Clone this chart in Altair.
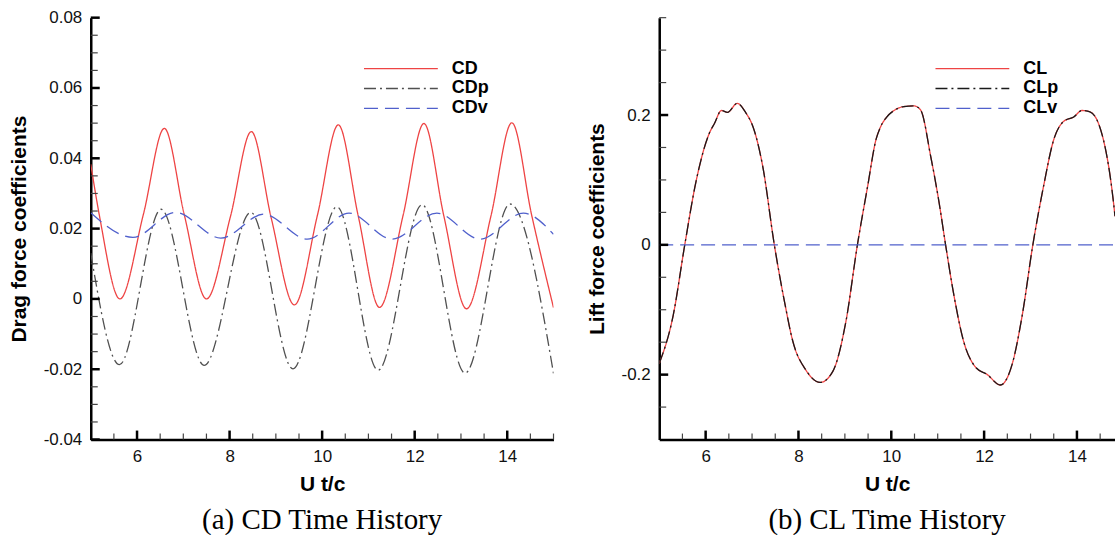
import altair as alt
import pandas as pd

# ---------------- data ----------------
# (a) drag coefficients
cd_t = [5.00, 5.19, 5.63, 6.14, 6.59, 7.02, 7.50, 8.02, 8.47, 8.90, 9.40, 9.90, 10.35,
        10.78, 11.24, 11.75, 12.20, 12.63, 13.12, 13.65, 14.10, 14.53, 15.00]
cd_v = [0.0383, 0.0235, 0.0000, 0.0242, 0.0485, 0.0240, 0.0000, 0.0235, 0.0476, 0.0230,
        -0.0017, 0.0239, 0.0495, 0.0236, -0.0024, 0.0238, 0.0499, 0.0236, -0.0028, 0.0237,
        0.0501, 0.0237, -0.0025]

cdp_t = [5.00, 5.62, 6.52, 7.45, 8.46, 9.37, 10.32, 11.21, 12.16, 13.09, 14.06, 15.00]
cdp_v = [0.0130, -0.0187, 0.0255, -0.0189, 0.0246, -0.0199, 0.0262, -0.0203, 0.0268,
         -0.0211, 0.0270, -0.0212]

cdv_t = [5.00, 5.91, 6.83, 7.81, 8.74, 9.68, 10.58, 11.51, 12.48, 13.41, 14.35, 15.00]
cdv_v = [0.0245, 0.0175, 0.0246, 0.0173, 0.0241, 0.0170, 0.0244, 0.0170, 0.0244, 0.0170,
         0.0244, 0.0184]

# (b) lift coefficients
cl_t = [5.00, 5.30, 5.55, 5.80, 6.08, 6.19, 6.34, 6.47, 6.68, 6.87, 7.02, 7.23, 7.48,
        7.70, 7.88, 8.16, 8.47, 8.74, 9.02, 9.27, 9.49, 9.67, 9.77, 9.88, 10.06, 10.27,
        10.49, 10.63, 10.85, 11.03, 11.17, 11.35, 11.56, 11.81, 12.07, 12.35, 12.60,
        12.82, 13.05, 13.28, 13.50, 13.71, 13.93, 14.11, 14.28, 14.57, 14.78, 14.82]
cl_v = [-0.183, -0.109, 0.000, 0.100, 0.172, 0.187, 0.207, 0.204, 0.218, 0.203, 0.182,
        0.121, 0.000, -0.088, -0.149, -0.193, -0.212, -0.195, -0.119, 0.000, 0.090, 0.162,
        0.182, 0.195, 0.207, 0.213, 0.214, 0.208, 0.136, 0.065, 0.000, -0.078, -0.149,
        -0.188, -0.200, -0.216, -0.185, -0.109, 0.000, 0.090, 0.162, 0.190, 0.197, 0.207,
        0.205, 0.162, 0.070, 0.044]
clp_t = list(cl_t)
clp_v = [-0.183, -0.109, 0.000, 0.100, 0.172, 0.187, 0.207, 0.204, 0.218, 0.203, 0.182,
         0.121, 0.000, -0.088, -0.149, -0.193, -0.212, -0.195, -0.119, 0.000, 0.090, 0.162,
         0.182, 0.195, 0.207, 0.213, 0.214, 0.208, 0.136, 0.065, 0.000, -0.078, -0.149,
         -0.188, -0.200, -0.216, -0.185, -0.109, 0.000, 0.090, 0.162, 0.190, 0.197, 0.207,
         0.205, 0.162, 0.070, 0.044]
clv_t = [5.00, 14.82]
clv_v = [0.0, 0.0]

# axis ticks / labels
left_x_major = [6, 8, 10, 12, 14]
left_x_minor = [5.5, 6.5, 7, 7.5, 8.5, 9, 9.5, 10.5, 11, 11.5, 12.5, 13, 13.5, 14.5, 15]
left_y_major = [-0.04, -0.02, 0, 0.02, 0.04, 0.06, 0.08]
left_y_minor = [-0.035, -0.03, -0.025, -0.015, -0.01, -0.005, 0.005, 0.01, 0.015,
                0.025, 0.03, 0.035, 0.045, 0.05, 0.055, 0.065, 0.07, 0.075]
right_x_major = [6, 8, 10, 12, 14]
right_x_minor = [5.5, 6.5, 7, 7.5, 8.5, 9, 9.5, 10.5, 11, 11.5, 12.5, 13, 13.5, 14.5]
right_y_major = [-0.2, 0, 0.2]
right_y_minor = [-0.25, -0.15, -0.1, -0.05, 0.05, 0.1, 0.15, 0.25, 0.3, 0.35]

cd_names = ["CD", "CDp", "CDv"]
cl_names = ["CL", "CLp", "CLv"]

# ---------------- styling ----------------
RED = "#ee4444"
GRAY = "#505050"
BLUE = "#5060cc"
BLACK = "#1a1a1a"
DASHES = [[1, 0], [12, 4, 2, 4], [14, 7]]

W1, W2, H = 464, 457, 423


def frame(ts, vs, names):
    rows = []
    for t_list, v_list, n in zip(ts, vs, names):
        rows += [{"t": a, "v": b, "series": n} for a, b in zip(t_list, v_list)]
    return pd.DataFrame(rows)


def legend(x):
    return alt.Legend(orient="none", legendX=x, legendY=41, symbolType="stroke",
                      symbolSize=5476, symbolStrokeWidth=1.3, clipHeight=20,
                      labelFont="Liberation Sans", labelFontSize=18,
                      labelFontWeight="bold", labelColor="black", labelOffset=13,
                      padding=0, rowPadding=0, title=None, direction="vertical")


def panel(df, names, colors, xdom, ydom, xmaj, xmin, ymaj, ymin, yfmt, ytitle,
          caption, w, legx):
    xenc = alt.X("t:Q", scale=alt.Scale(domain=xdom, nice=False, zero=False),
                 axis=alt.Axis(values=xmaj, format="d", title="U t/c"))
    lab = ("datum.value == 0 ? '0' : (datum.value < 0 ? '-' + format(-datum.value, '%s')"
           " : format(datum.value, '%s'))") % (yfmt, yfmt)
    yenc = alt.Y("v:Q", scale=alt.Scale(domain=ydom, nice=False, zero=False),
                 axis=alt.Axis(values=ymaj, labelExpr=lab, title=ytitle))
    lines = alt.Chart(df).mark_line(strokeWidth=1.3, interpolate="monotone", clip=True).encode(
        x=xenc, y=yenc,
        color=alt.Color("series:N", scale=alt.Scale(domain=names, range=colors),
                        legend=legend(legx)),
        strokeDash=alt.StrokeDash("series:N", scale=alt.Scale(domain=names, range=DASHES),
                                  legend=legend(legx)),
    )
    xt_maj = alt.Chart(pd.DataFrame({"t": xmaj})).mark_rule(color="black", strokeWidth=2.5).encode(
        x=xenc, y=alt.value(H), y2=alt.value(H - 9))
    xt_min = alt.Chart(pd.DataFrame({"t": xmin})).mark_rule(color="#444444", strokeWidth=1.2).encode(
        x=xenc, y=alt.value(H), y2=alt.value(H - 6))
    yt_maj = alt.Chart(pd.DataFrame({"v": ymaj})).mark_rule(color="black", strokeWidth=2.5).encode(
        y=yenc, x=alt.value(0), x2=alt.value(9))
    yt_min = alt.Chart(pd.DataFrame({"v": ymin})).mark_rule(color="#444444", strokeWidth=1.2).encode(
        y=yenc, x=alt.value(0), x2=alt.value(7))
    return alt.layer(lines, xt_maj, xt_min, yt_maj, yt_min).properties(
        width=w, height=H,
        title=alt.TitleParams(caption, orient="bottom", anchor="middle",
                              font="Liberation Serif", fontSize=29, fontWeight="normal",
                              color="black", offset=12),
    )


left_df = frame([cd_t, cdp_t, cdv_t], [cd_v, cdp_v, cdv_v], cd_names)
right_df = frame([cl_t, clp_t, clv_t], [cl_v, clp_v, clv_v], cl_names)

left = panel(left_df, cd_names, [RED, GRAY, BLUE], [5, 15], [-0.04, 0.08],
             left_x_major, left_x_minor, left_y_major, left_y_minor, ".2f",
             "Drag force coefficients", "(a) CD Time History", W1, 273)
right = panel(right_df, cl_names, [RED, BLACK, BLUE], [5, 14.82], [-0.3, 0.35],
              right_x_major, right_x_minor, right_y_major, right_y_minor, ".1f",
              "Lift force coefficients", "(b) CL Time History", W2, 276)

chart = alt.hconcat(left, right, spacing=31).resolve_scale(
    x="independent", y="independent", color="independent", strokeDash="independent"
).properties(
    padding={"left": 8, "top": 8, "right": 0, "bottom": 0}
).configure_view(strokeWidth=0).configure_axis(
    domainColor="black", domainWidth=2.5, ticks=False, tickSize=0, grid=False,
    labelFont="Liberation Sans", labelFontSize=17, labelColor="#111111", labelPadding=9,
    titleFont="Liberation Sans", titleFontSize=21, titleFontWeight="bold", titleColor="black",
).configure_axisY(titlePadding=14).configure_axisX(titlePadding=9)

chart.save("out.html", embed_options={"renderer": "svg", "actions": False})
